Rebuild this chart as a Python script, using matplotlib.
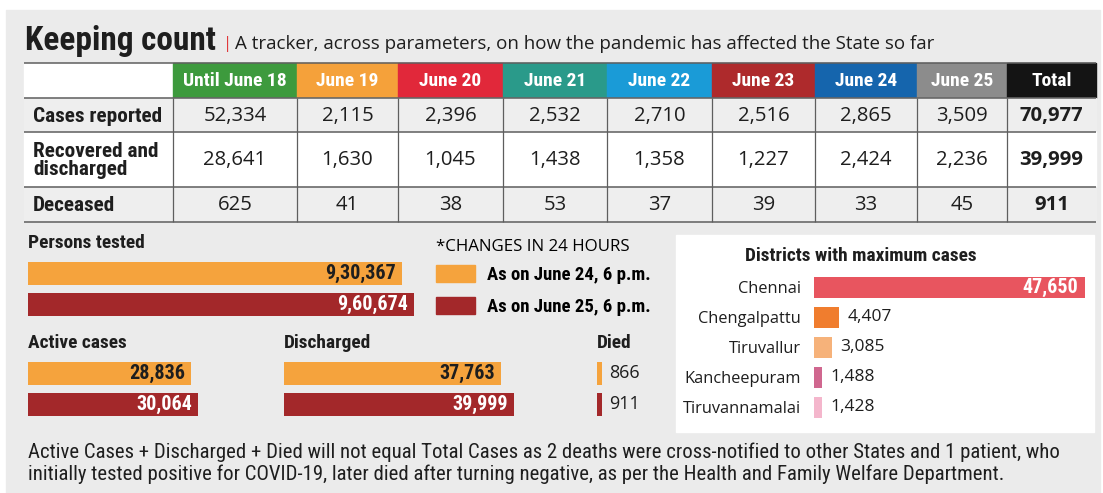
"""Keeping count: Tamil Nadu COVID-19 tracker infographic (table + bar panels)."""
import matplotlib

matplotlib.use("Agg")
import matplotlib.pyplot as plt
from matplotlib import font_manager as fm
from matplotlib.font_manager import FontProperties
from matplotlib.patches import Patch, Rectangle

# ---- data -------------------------------------------------------------
DAYS = ["Until June 18", "June 19", "June 20", "June 21", "June 22",
        "June 23", "June 24", "June 25", "Total"]
ROWS = ["Cases reported", "Recovered and\ndischarged", "Deceased"]
CASES = [52334, 2115, 2396, 2532, 2710, 2516, 2865, 3509, 70977]
RECOVERED = [28641, 1630, 1045, 1438, 1358, 1227, 2424, 2236, 39999]
DECEASED = [625, 41, 38, 53, 37, 39, 33, 45, 911]

SNAPSHOTS = ["As on June 24, 6 p.m.", "As on June 25, 6 p.m."]
TESTED = [930367, 960674]
ACTIVE = [28836, 30064]
DISCHARGED = [37763, 39999]
DIED = [866, 911]

DISTRICTS = ["Chennai", "Chengalpattu", "Tiruvallur", "Kancheepuram", "Tiruvannamalai"]
DISTRICT_CASES = [47650, 4407, 3085, 1488, 1428]

NOTE = ["Active Cases + Discharged + Died will not equal Total Cases as 2 deaths were "
        "cross-notified to other States and 1 patient, who",
        "initially tested positive for COVID-19, later died after turning negative, "
        "as per the Health and Family Welfare Department."]

# ---- style ------------------------------------------------------------
W, H = 1103, 493
PANEL = "#ebebeb"
INK = "#1e1e1e"
ORANGE = "#f5a33d"
RED = "#a3282a"
DAY_COLORS = ["#3d9a3d", "#f5a13a", "#e1283a", "#2a9a8a", "#1a9bd7",
              "#ae2a2c", "#1565ad", "#8c8c8c", "#141414"]
DISTRICT_COLORS = ["#e8555f", "#f07d2e", "#f6b27a", "#d0678f", "#f4b6cc"]

names = {f.name for f in fm.fontManager.ttflist}


def pick(*cands):
    return next((n for n in cands if n in names), "DejaVu Sans")


COND = pick("Roboto Condensed", "Open Sans Condensed", "Liberation Sans Narrow", "Roboto")
SANS = pick("Open Sans", "Noto Sans", "Roboto")


def inr(n):
    """Indian digit grouping: 930367 -> 9,30,367."""
    s = str(n)
    if len(s) <= 3:
        return s
    head, tail = s[:-3], s[-3:]
    parts = []
    while len(head) > 2:
        parts.insert(0, head[-2:])
        head = head[:-2]
    if head:
        parts.insert(0, head)
    return ",".join(parts + [tail])


fig = plt.figure(figsize=(W / 100, H / 100), dpi=100)


def px_axes(x0, y0, x1, y1):
    return fig.add_axes([x0 / W, 1 - y1 / H, (x1 - x0) / W, (y1 - y0) / H])


base = px_axes(0, 0, W, H)
base.set_xlim(0, W)
base.set_ylim(H, 0)
base.axis("off")
base.add_patch(Rectangle((6, 10), 1094, 483, color=PANEL, zorder=0))

# ---- title ------------------------------------------------------------
t_title = base.text(25, 50, "Keeping count", fontsize=20, fontweight="bold",
                    family=COND, color=INK, va="baseline")
base.text(223, 48, "|", fontsize=12, color="#e0393c", family=SANS, va="baseline")
t_sub = base.text(235, 49, "A tracker, across parameters, on how the pandemic has "
                  "affected the State so far", fontsize=12.5, family=SANS,
                  color=INK, va="baseline")

# ---- table ------------------------------------------------------------
col_edges = [24, 173, 297, 398, 503, 607, 712, 815, 917, 1007, 1096]
row_edges = [63, 98, 132, 187, 222]
row_fill = ["#eeeeee", "white", "#eeeeee"]

base.add_patch(Rectangle((col_edges[0], row_edges[0]), col_edges[1] - col_edges[0],
                         row_edges[1] - row_edges[0], color="white", zorder=1))
head_txt, val_txt, lab_txt = [], [], []
for j, (day, c) in enumerate(zip(DAYS, DAY_COLORS)):
    x0, x1 = col_edges[j + 1], col_edges[j + 2]
    base.add_patch(Rectangle((x0, row_edges[0]), x1 - x0, row_edges[1] - row_edges[0],
                             color=c, zorder=1))
    head_txt.append(base.text((x0 + x1) / 2, (row_edges[0] + row_edges[1]) / 2 + 1, day,
                              color="white", fontweight="bold", family=COND,
                              ha="center", va="center", zorder=3))

for i, (label, vals) in enumerate(zip(ROWS, [CASES, RECOVERED, DECEASED])):
    y0, y1 = row_edges[i + 1], row_edges[i + 2]
    base.add_patch(Rectangle((col_edges[0], y0), col_edges[-1] - col_edges[0], y1 - y0,
                             color=row_fill[i], zorder=1))
    lab_txt.append(base.text(33, (y0 + y1) / 2 + 1, label, fontweight="bold", family=COND,
                             color=INK, va="center", linespacing=0.95, zorder=3))
    for j, v in enumerate(vals):
        x0, x1 = col_edges[j + 1], col_edges[j + 2]
        val_txt.append(base.text((x0 + x1) / 2, (y0 + y1) / 2 + 1, inr(v), family=SANS,
                                 color=INK, ha="center", va="center", zorder=3,
                                 fontweight="bold" if j == len(vals) - 1 else "normal"))

base.hlines(row_edges, col_edges[0], col_edges[-1], color="#5e5e5e", lw=1.1, zorder=2)
base.vlines(col_edges[1:-1], row_edges[1], row_edges[-1], color="#5e5e5e", lw=0.9, zorder=2)

# ---- bar panels -------------------------------------------------------
sec_txt = []


def bar_panel(x0, y0, width, values, per_px, title, inside=True):
    ax = px_axes(x0, y0, x0 + width, y0 + 31 * len(values))
    ax.barh(range(len(values)), values, height=23 / 31, color=[ORANGE, RED])
    ax.set_xlim(0, width * per_px)
    ax.set_ylim(len(values) - 0.5, -0.5)
    ax.axis("off")
    for i, v in enumerate(values):
        if inside:
            ax.annotate(inr(v), (v, i), xytext=(-4, 0), textcoords="offset points",
                        ha="right", va="center", fontweight="bold", family=COND,
                        fontsize=14.5, color=INK if i == 0 else "white")
        else:
            ax.annotate(inr(v), (v, i), xytext=(5, 0), textcoords="offset points",
                        ha="left", va="center", family=SANS, fontsize=13, color=INK)
    sec_txt.append(base.text(x0, y0 - 15, title, fontweight="bold", family=COND,
                             color=INK, va="center"))
    return ax


bar_panel(28, 258, 400, TESTED, 2489, "Persons tested")
bar_panel(28, 357.5, 220, ACTIVE, 177, "Active cases")
bar_panel(284, 357.5, 260, DISCHARGED, 174, "Discharged")
bar_panel(597, 357.5, 60, DIED, 176, "Died", inside=False)

leg = base.legend([Patch(color=ORANGE), Patch(color=RED)], SNAPSHOTS,
                  title="*CHANGES IN 24 HOURS", loc="upper left",
                  bbox_to_anchor=(436, 239), bbox_transform=base.transData,
                  frameon=False, borderpad=0, borderaxespad=0, alignment="left",
                  prop=FontProperties(family=COND, weight="bold", size=13.5),
                  title_fontproperties=FontProperties(family=SANS, size=12.2),
                  handlelength=2.1, handleheight=1.0, handletextpad=0.6,
                  labelspacing=0.72)
leg._legend_box.sep = 7

# ---- districts --------------------------------------------------------
base.add_patch(Rectangle((676, 235), 418, 197, color="white", zorder=1))
t_dist = base.text(745, 256, "Districts with maximum cases", fontweight="bold",
                   family=COND, color=INK, va="center", zorder=3)
dax = px_axes(814, 272, 1089, 422)
dax.barh(range(len(DISTRICTS)), DISTRICT_CASES, height=0.7, color=DISTRICT_COLORS)
dax.set_xlim(0, 275 * 176)
dax.set_ylim(len(DISTRICTS) - 0.5, -0.5)
dax.set_yticks(range(len(DISTRICTS)), DISTRICTS, family=SANS, fontsize=11.8, color=INK)
dax.tick_params(left=False, bottom=False, labelbottom=False, pad=6)
dax.patch.set_visible(False)
for s in dax.spines.values():
    s.set_visible(False)
for i, v in enumerate(DISTRICT_CASES):
    if i == 0:
        dax.annotate(inr(v), (v, i), xytext=(-5, 0), textcoords="offset points", ha="right",
                     va="center", fontweight="bold", family=COND, fontsize=14.5, color="white")
    else:
        dax.annotate(inr(v), (v, i), xytext=(6, 0), textcoords="offset points", ha="left",
                     va="center", family=SANS, fontsize=12.5, color=INK)

# ---- footnote ---------------------------------------------------------
notes = [base.text(28, y, line, family=COND, color=INK, va="center")
         for y, line in zip([452, 474], NOTE)]

# ---- fit text widths to the layout ------------------------------------
fig.canvas.draw()
renderer = fig.canvas.get_renderer()


def fit(ref, width, group=()):
    size = ref.get_fontsize() * width / ref.get_window_extent(renderer).width
    for t in [ref, *group]:
        t.set_fontsize(size)


fit(t_title, 190)
fit(t_sub, 700)
fit(head_txt[0], 103, head_txt[1:])
fit(lab_txt[0], 129, lab_txt[1:])
fit(val_txt[0], 63, val_txt[1:])
fit(sec_txt[0], 117, sec_txt[1:])
fit(t_dist, 233)
fit(notes[0], 1024, notes[1:])

fig.savefig("out.png", dpi=100, facecolor="white")
